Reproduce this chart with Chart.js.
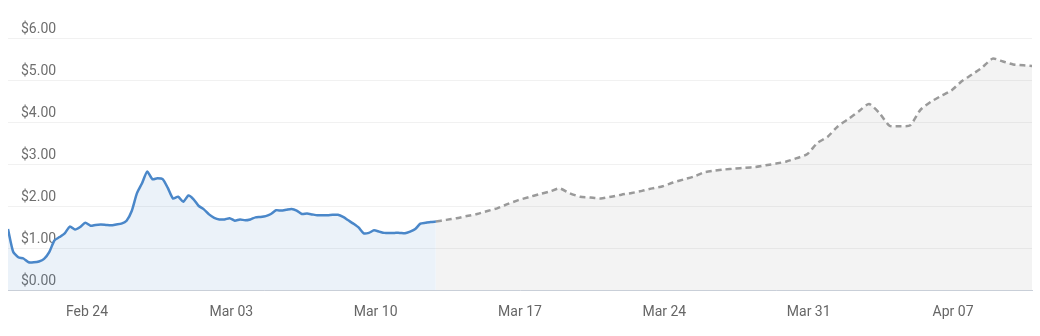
<!DOCTYPE html>
<html>
<head>
<meta charset="utf-8">
<script src="https://cdn.jsdelivr.net/npm/chart.js@4.4.1/dist/chart.umd.min.js"></script>
<style>
  html, body { margin: 0; padding: 0; background: #fff; }
  #wrap { width: 1040px; height: 336px; position: relative; }
</style>
</head>
<body>
<div id="wrap"><canvas id="priceChart"></canvas></div>
<script>
// days counted from Feb 20 00:00
const actualStart = 0.17;
const actualStep = 0.25;
const actualPrices = [
    1.45, 0.91, 0.78, 0.75, 0.66, 0.66, 0.68, 0.74, 0.90, 1.18,
    1.26, 1.35, 1.51, 1.44, 1.50, 1.60, 1.53, 1.55, 1.56, 1.55,
    1.54, 1.56, 1.58, 1.65, 1.88, 2.30, 2.54, 2.82, 2.64, 2.66,
    2.64, 2.43, 2.18, 2.22, 2.10, 2.25, 2.16, 2.00, 1.92, 1.80,
    1.72, 1.68, 1.68, 1.71, 1.65, 1.68, 1.66, 1.68, 1.73, 1.74,
    1.76, 1.81, 1.90, 1.89, 1.91, 1.93, 1.89, 1.81, 1.82, 1.80,
    1.78, 1.78, 1.78, 1.79, 1.79, 1.74, 1.66, 1.58, 1.49, 1.35,
    1.36, 1.42, 1.39, 1.36, 1.36, 1.36, 1.36, 1.35, 1.39, 1.45,
    1.58, 1.60, 1.62, 1.63
];

const forecastStart = actualStart + (actualPrices.length - 1) * actualStep;
const forecastStep = 0.5;
const forecastPrices = [
    1.63, 1.67, 1.71, 1.76, 1.81, 1.88, 1.95, 2.05, 2.14, 2.21,
    2.28, 2.34, 2.42, 2.30, 2.22, 2.20, 2.18, 2.22, 2.27, 2.31,
    2.36, 2.42, 2.47, 2.56, 2.63, 2.70, 2.80, 2.84, 2.87, 2.89,
    2.91, 2.93, 2.97, 3.01, 3.06, 3.14, 3.23, 3.50, 3.65, 3.90,
    4.07, 4.25, 4.43, 4.22, 3.91, 3.90, 3.92, 4.29, 4.48, 4.62,
    4.75, 4.97, 5.13, 5.30, 5.51, 5.44, 5.37, 5.35, 5.33
];

const tickDays = [4, 11, 18, 25, 32, 39, 46];
const tickLabels = ['Feb 24', 'Mar 03', 'Mar 10', 'Mar 17', 'Mar 24', 'Mar 31', 'Apr 07'];

const ctx = document.getElementById('priceChart').getContext('2d');
const priceChart = new Chart(ctx, {
    type: 'line',
    data: {
        datasets: [{
            data: actualPrices.map((v, i) => ({ x: actualStart + i * actualStep, y: v })),
            borderColor: '#4a87c9',
            backgroundColor: 'rgba(74, 135, 201, 0.11)',
            borderWidth: 2.5,
            fill: 'origin',
            pointRadius: 0,
            tension: 0.2
        }, {
            data: forecastPrices.map((v, i) => ({ x: forecastStart + i * forecastStep, y: v })),
            borderColor: '#9a9a9a',
            backgroundColor: 'rgba(150, 150, 150, 0.11)',
            borderWidth: 2.5,
            borderDash: [6, 4],
            fill: 'origin',
            pointRadius: 0,
            tension: 0.2
        }]
    },
    options: {
        responsive: true,
        maintainAspectRatio: false,
        animation: false,
        layout: { padding: { top: 38, left: 8, right: 8, bottom: 0 } },
        plugins: { legend: { display: false }, tooltip: { enabled: false } },
        scales: {
            x: {
                type: 'linear',
                min: 0.17,
                max: 49.83,
                afterBuildTicks: (scale) => {
                    scale.ticks = tickDays.map(d => ({ value: d }));
                },
                afterFit: (scale) => { scale.height = 46; },
                ticks: {
                    autoSkip: false,
                    maxRotation: 0,
                    padding: 14,
                    color: '#666',
                    font: { family: 'Roboto', size: 14 },
                    callback: (value) => tickLabels[tickDays.indexOf(value)]
                },
                grid: { display: false, drawTicks: false },
                border: { display: true, color: '#c9cfd8', width: 1 }
            },
            y: {
                min: 0,
                max: 6,
                afterFit: (scale) => { scale.width = 0; },
                ticks: {
                    stepSize: 1,
                    mirror: true,
                    padding: 13,
                    labelOffset: -9,
                    color: '#6e6e6e',
                    font: { family: 'Roboto', size: 14 },
                    callback: (value) => '$' + value.toFixed(2)
                },
                grid: { color: '#f1f1f1', drawTicks: false },
                border: { display: false }
            }
        }
    }
});
</script>
</body>
</html>
